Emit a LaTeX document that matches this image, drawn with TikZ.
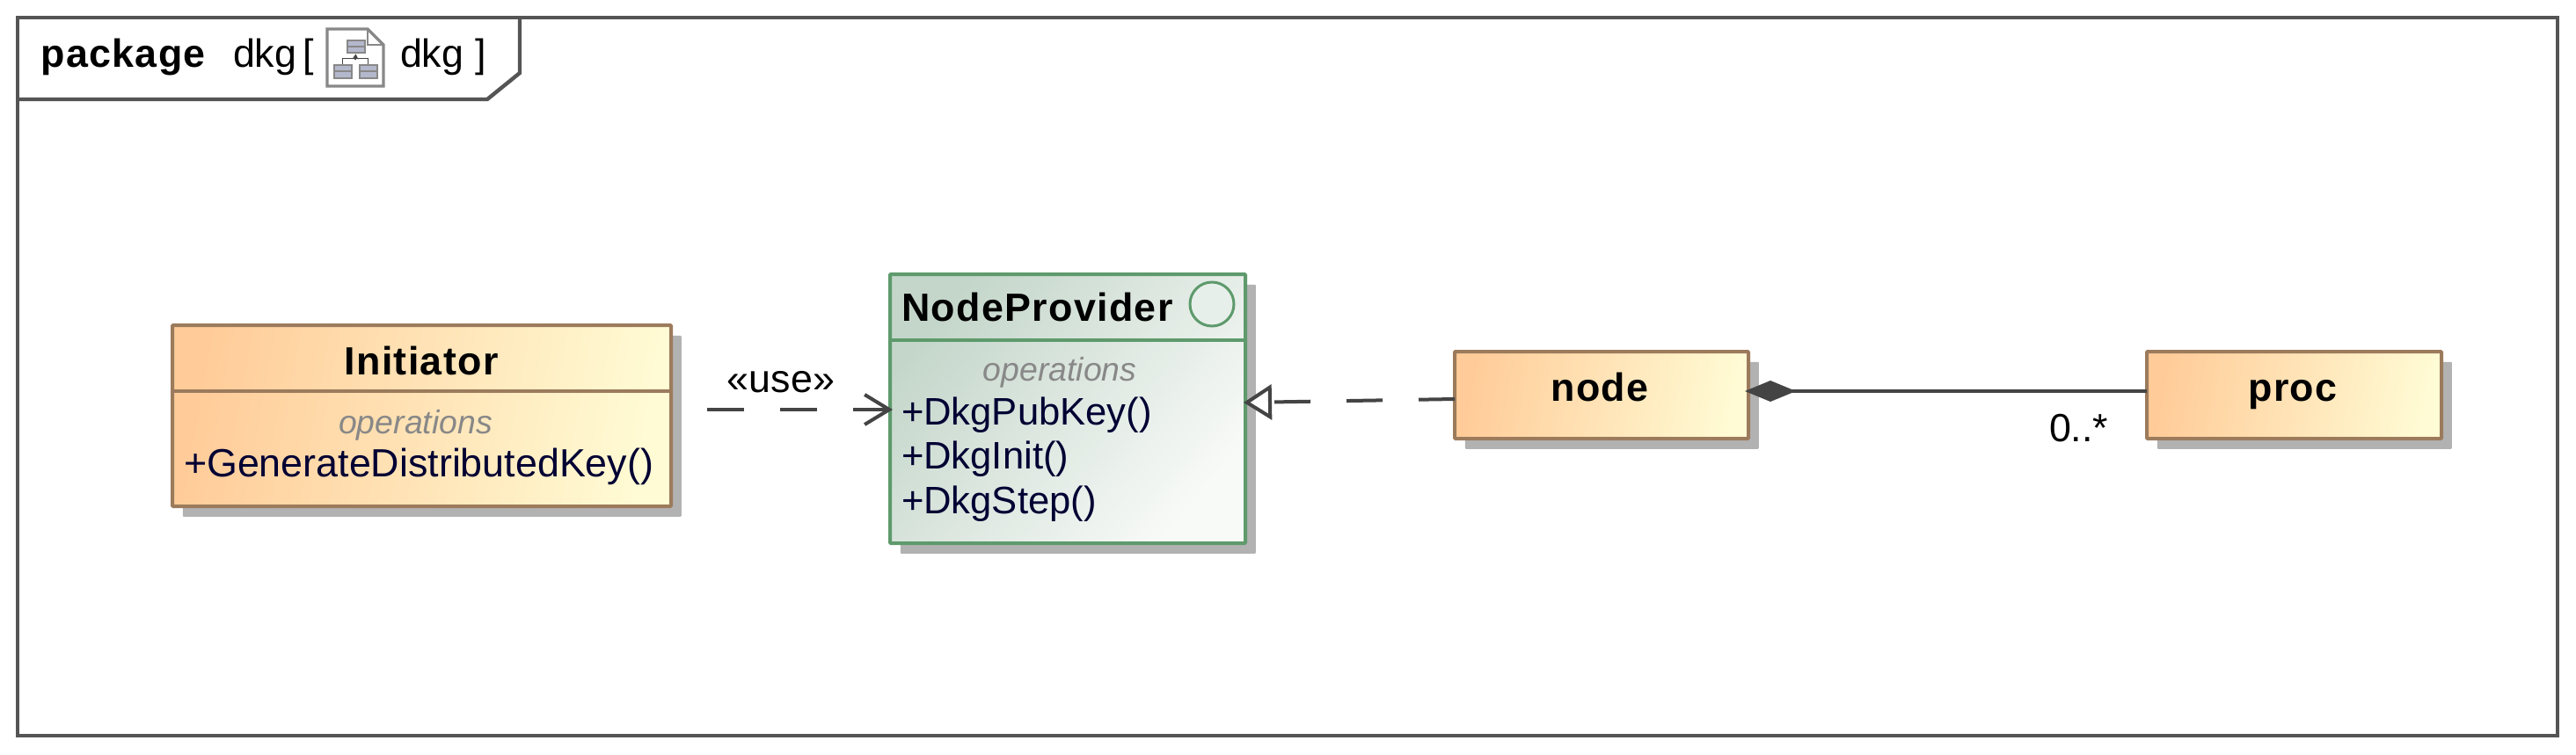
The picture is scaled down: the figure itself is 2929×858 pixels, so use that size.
\documentclass[tikz,border=0pt]{standalone}
\usepackage{fontspec}
\setmainfont{Liberation Sans}
\newfontfamily\titlefont[LetterSpace=3,UprightFont=* Bold]{Liberation Sans}
\usetikzlibrary{arrows.meta,shadows,calc}
\definecolor{framegray}{HTML}{555555}
\definecolor{linegray}{HTML}{444444}
\definecolor{shadowgray}{HTML}{B2B2B2}
\definecolor{brownline}{HTML}{9C7B5C}
\definecolor{greenline}{HTML}{5E9A6C}
\definecolor{orangeL}{HTML}{FFCC99}
\definecolor{orangeR}{HTML}{FFFBD4}
\definecolor{greenL}{HTML}{C4D6CA}
\definecolor{greenR}{HTML}{F8FAF8}
\definecolor{navy}{HTML}{000033}
\definecolor{opgray}{HTML}{888888}
\definecolor{icongray}{HTML}{888888}
\definecolor{iconfill}{HTML}{B4B8CC}
\newcommand{\bodyfs}{\fontsize{22.4}{26}\selectfont}
\newcommand{\npfs}{\fontsize{21.8}{26}\selectfont}
\newcommand{\opfs}{\fontsize{18.7}{22}\selectfont\itshape}
\tikzset{
  x=0.5pt,y=-0.5pt,
  txt/.style={inner sep=0pt,outer sep=0pt,font=\bodyfs,text=black},
  title/.style={txt,anchor=base,font=\titlefont\bodyfs},
  method/.style={txt,anchor=base west,text=navy},
  npmethod/.style={method,font=\npfs},
  opslabel/.style={txt,anchor=base,font=\opfs,text=opgray},
  uclass/.style={draw=brownline,line width=2pt,inner sep=0pt,outer sep=0pt,rounded corners=0.5pt,
    left color=orangeL,right color=orangeR,shading angle=80,
    general shadow={shadow xshift=5.9pt,shadow yshift=-5.9pt,fill=shadowgray,draw=none}},
  iface/.style={uclass,draw=greenline,left color=greenL,right color=greenR,shading angle=50},
  conn/.style={draw=linegray,line width=2pt},
  iconbox/.style={draw=icongray,line width=1pt,fill=iconfill,inner sep=0pt,minimum width=10pt,minimum height=7.4pt},
}
\begin{document}
\begin{tikzpicture}
\useasboundingbox (0,0) rectangle (2929,858);
\fill[white] (0,0) rectangle (2929,858);
% frame
\node[draw=framegray,line width=2.2pt,fill=white,inner sep=0pt,outer sep=0pt,minimum width=1444pt,minimum height=408.5pt] (frame) at (1464,428.5) {};
\draw[framegray,line width=2.2pt] (591,20) -- (591,83) -- (554,113) -- (20,113);
\node[title] (pkg) at (140,76) {package};
\node[txt,anchor=base west] (pkgname) at (265,76) {dkg};
\node[txt,anchor=base west] (lbrack) at (344,76) {[};
\node[txt,anchor=base west] (diagname) at (455,76) {dkg};
\node[txt,anchor=base east] (rbrack) at (553,76) {]};
% icon
\draw[icongray,line width=1.6pt,fill=white] (372,33) -- (418,33) -- (436,51) -- (436,98) -- (372,98) -- cycle;
\draw[icongray,line width=1pt] (418,33) -- (418,51) -- (436,51);
\node[iconbox] (icontop) at (404.5,53) {};
\node[iconbox] (iconl) at (389.5,81.5) {};
\node[iconbox] (iconr) at (418.5,81.5) {};
\draw[linegray,line width=0.8pt] (iconl.north) -- ++(0,-6.5) -| (iconr.north);
\draw[linegray,line width=0.8pt,-{Stealth[length=3pt,width=3.5pt]}] (404,68) -- (icontop.south);
\draw[icongray,line width=0.6pt] (iconl.west |- 0,81) -- (iconl.east |- 0,81) (iconr.west |- 0,81) -- (iconr.east |- 0,81) (icontop.west |- 0,53) -- (icontop.east |- 0,53);
% classes
\node[uclass,minimum width=283.5pt,minimum height=103pt] (initiator) at (479.5,473) {};
\draw[brownline,line width=2pt] (initiator.west |- 0,445) -- (initiator.east |- 0,445);
\node[title] (initT) at (479,426) {Initiator};
\node[opslabel] (initO) at (472.5,493) {operations};
\node[method] (initM) at (209,542) {+GenerateDistributedKey()};

\node[iface,minimum width=202pt,minimum height=153pt] (np) at (1214,465) {};
\draw[greenline,line width=2pt] (np.west |- 0,387) -- (np.east |- 0,387);
\node[title,anchor=base west] (npT) at (1025,365) {NodeProvider};
\node[draw=greenline,line width=1.5pt,fill=greenL!40!white,circle,inner sep=0pt,minimum size=25pt] (npC) at (1378,346) {};
\node[opslabel] (npO) at (1205,433) {operations};
\node[npmethod] (npM1) at (1025,483) {+DkgPubKey()};
\node[npmethod] (npM2) at (1025,533) {+DkgInit()};
\node[npmethod] (npM3) at (1025,584) {+DkgStep()};

\node[uclass,minimum width=167pt,minimum height=49.5pt] (nodeb) at (1821,449.5) {};
\node[title] (nodeT) at (1819,456) {node};
\node[uclass,minimum width=167.5pt,minimum height=49.5pt] (proc) at (2608.5,449.5) {};
\node[title] (procT) at (2607,456) {proc};
% connectors
\coordinate (useStart) at (804,466);
\draw[conn,dash pattern=on 21pt off 20.5pt,shorten >=-1.5pt,-{Straight Barb[length=14pt,width=17pt,line width=2pt]}] (useStart) -- (np.west |- useStart);
\node[txt,anchor=base] (useL) at (888,446) {«use»};
\coordinate (realFrom) at (1654,454);
\coordinate (realTo) at (1414,458);
\draw[conn,dash pattern=on 20.5pt off 20.5pt,-{Triangle[open,length=16pt,width=20pt,line width=2pt,fill=white]}] (realFrom) -- (realTo);
\draw[conn,shorten <=-2pt,{Diamond[length=29pt,width=12pt,fill=linegray]}-] (nodeb.east |- 0,445) -- (proc.west |- 0,445);
\node[txt,anchor=base west] (mult) at (2330,502) {0..*};
\end{tikzpicture}
\end{document}
